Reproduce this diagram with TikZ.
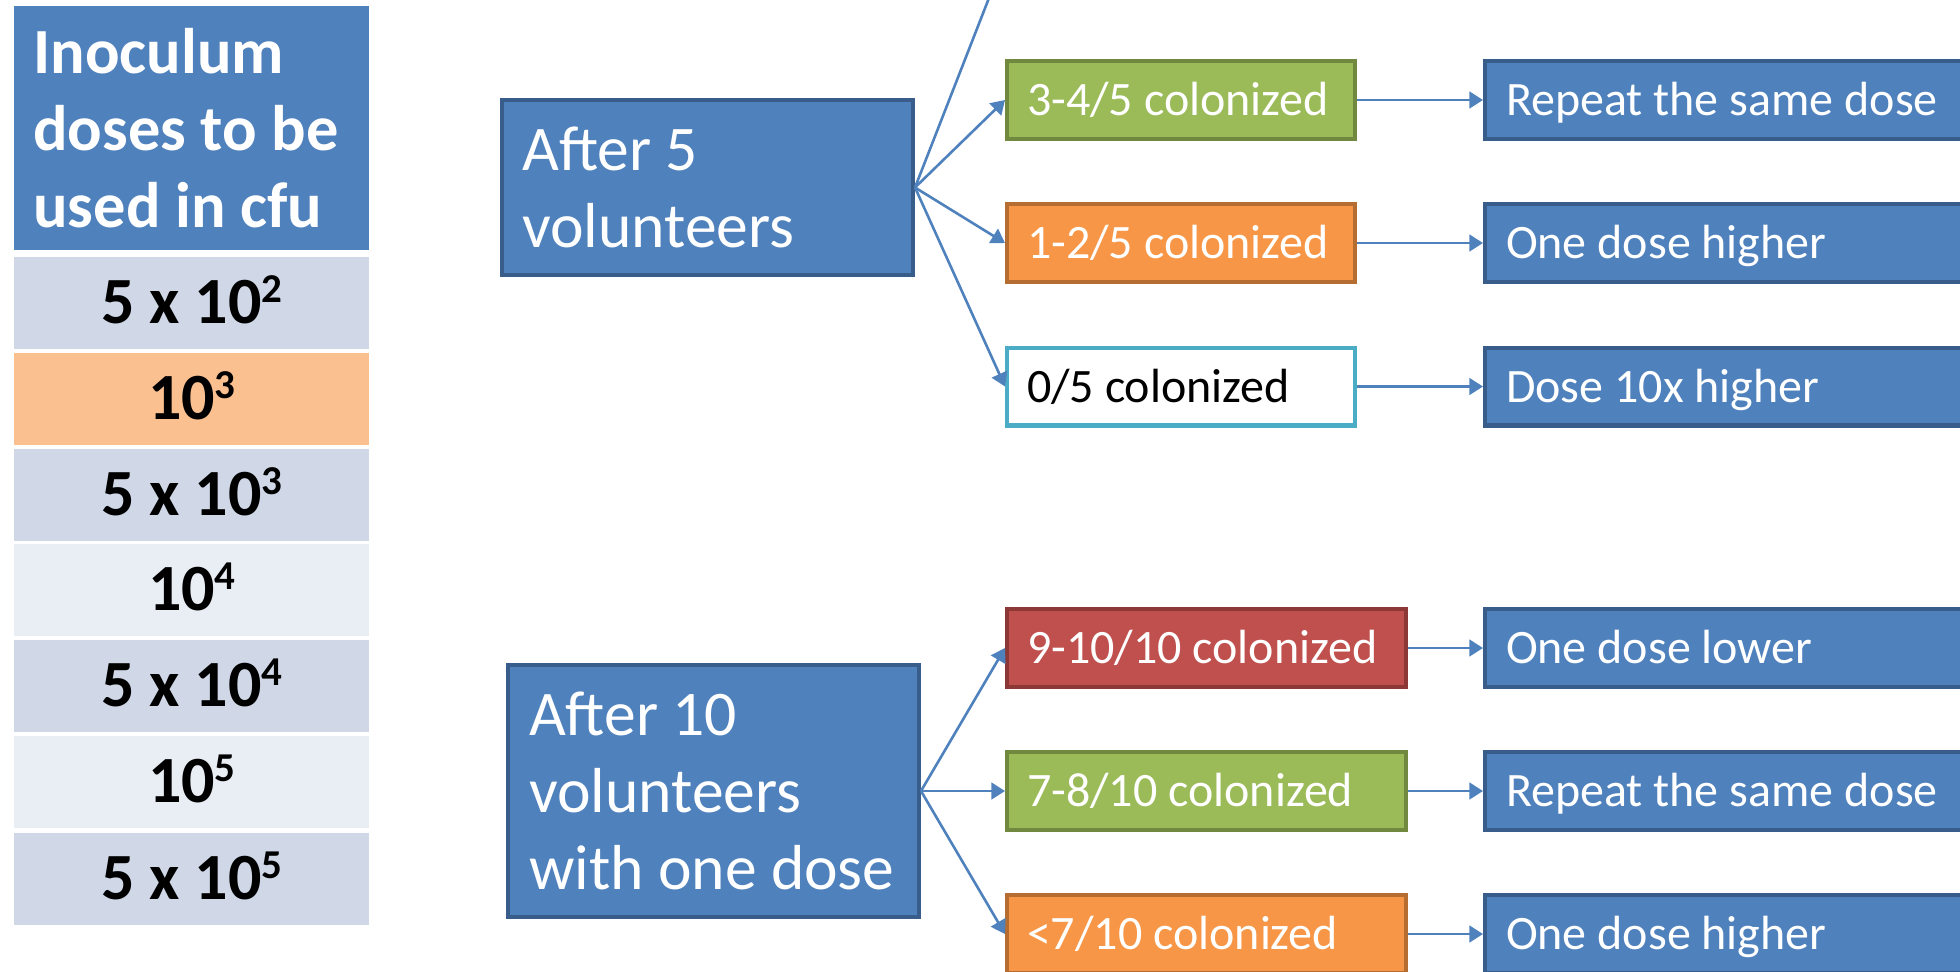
\documentclass[tikz,border=0pt]{standalone}
\usepackage{fontspec}
\setmainfont{Carlito}
\usepackage{xcolor}
\usetikzlibrary{arrows.meta}
\definecolor{blu}{HTML}{4F81BD}
\definecolor{bluD}{HTML}{385D8A}
\definecolor{grn}{HTML}{9BBB59}
\definecolor{grnD}{HTML}{71893F}
\definecolor{org}{HTML}{F79646}
\definecolor{orgD}{HTML}{B66D31}
\definecolor{rd}{HTML}{C0504D}
\definecolor{rdD}{HTML}{8C3836}
\definecolor{cyn}{HTML}{4BACC6}
\definecolor{rowA}{HTML}{D0D8E8}
\definecolor{rowB}{HTML}{E9EDF4}
\definecolor{rowC}{HTML}{FAC090}
\tikzset{
  hd/.style={fill=blu,text=white,align=flush left,font=\bfseries\fontsize{32.2}{38.5}\selectfont,text width=158.5pt,inner xsep=9.5pt,inner ysep=0pt,minimum height=122pt,anchor=west},
  cell/.style={font=\bfseries\fontsize{33}{38.5}\selectfont,minimum width=177.5pt,minimum height=46pt,inner sep=0pt,text height=20.8pt,text depth=0pt,anchor=west},
  box/.style={draw,line width=2.2pt,align=flush left,inner ysep=0pt,anchor=west},
  big/.style={box,fill=blu,draw=bluD,text=white,font=\fontsize{31.8}{38.3}\selectfont,text width=185.3pt,inner xsep=10pt},
  res/.style={box,text=white,font=\fontsize{24}{28}\selectfont,text width=154pt,inner xsep=9.9pt,minimum height=38.8pt,text height=15.6pt,text depth=0pt},
  act/.style={res,fill=blu,draw=bluD,text width=246.6pt,inner xsep=10.4pt},
  ar/.style={draw=blu,line width=1.3pt,-{Triangle[length=6.8pt,width=8.3pt]}}
}
\newcommand{\pw}[1]{10\raisebox{10.5pt}{\fontsize{20.5}{20.5}\selectfont #1}}

\begin{document}
\begin{tikzpicture}[x=0.5pt,y=-0.5pt]
\useasboundingbox (0,0) rectangle (1960,971);
\clip (0,0) rectangle (1960,971);
\node[hd] (hdr) at (14,128) {Inoculum\\doses to be\\used in cfu};
\node[cell,fill=rowA] (d1) at (14,303) {5 x \pw{2}};
\node[cell,fill=rowC] (d2) at (14,398.5) {\pw{3}};
\node[cell,fill=rowA] (d3) at (14,494.5) {5 x \pw{3}};
\node[cell,fill=rowB] (d4) at (14,590) {\pw{4}};
\node[cell,fill=rowA] (d5) at (14,686) {5 x \pw{4}};
\node[cell,fill=rowB] (d6) at (14,781.5) {\pw{5}};
\node[cell,fill=rowA] (d7) at (14,878.5) {5 x \pw{5}};

\node[big,minimum height=87.3pt] (a5) at (500,187.5) {After 5\\volunteers};
\node[res,fill=grn,draw=grnD] (g5) at (1005,100) {3-4/5 colonized};
\node[res,fill=org,draw=orgD] (o5) at (1005,243) {1-2/5 colonized};
\node[res,fill=white,draw=cyn,text=black] (w5) at (1005,386.5) {0/5 colonized};
\coordinate (c5) at (1005,-43);
\node[act] (ga5) at (1483,100) {Repeat the same dose};
\node[act] (oa5) at (1483,243) {One dose higher};
\node[act] (wa5) at (1483,386.5) {Dose 10x higher};
\draw[ar] (a5.east) -- (c5);
\draw[ar] (a5.east) -- (g5.west);
\draw[ar] (a5.east) -- (o5.west);
\draw[ar] (a5.east) -- (w5.west);
\draw[ar] (g5.east) -- (ga5.west);
\draw[ar] (o5.east) -- (oa5.west);
\draw[ar] (w5.east) -- (wa5.west);

\node[big,minimum height=125.8pt,inner xsep=10.4pt,text width=184.5pt] (a10) at (506,791) {After 10\\volunteers\\\mbox{with one dose}};
\node[res,fill=rd,draw=rdD,text width=179.5pt] (r10) at (1005,648) {9-10/10 colonized};
\node[res,fill=grn,draw=grnD,text width=179.5pt] (g10) at (1005,791) {7-8/10 colonized};
\node[res,fill=org,draw=orgD,text width=179.5pt] (o10) at (1005,934) {<7/10 colonized};
\node[act] (ra10) at (1483,648) {One dose lower};
\node[act] (ga10) at (1483,791) {Repeat the same dose};
\node[act] (oa10) at (1483,934) {One dose higher};
\draw[ar] (a10.east) -- (r10.west);
\draw[ar] (a10.east) -- (g10.west);
\draw[ar] (a10.east) -- (o10.west);
\draw[ar] (r10.east) -- (ra10.west);
\draw[ar] (g10.east) -- (ga10.west);
\draw[ar] (o10.east) -- (oa10.west);
\end{tikzpicture}
\end{document}
